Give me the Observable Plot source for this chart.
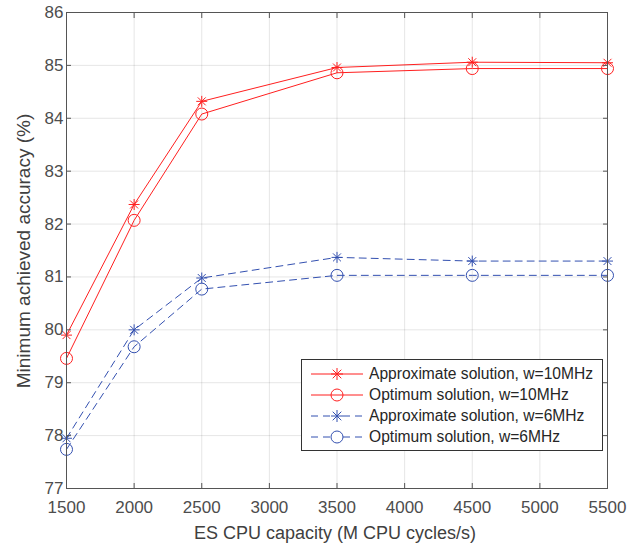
<!DOCTYPE html>
<html><head><meta charset="utf-8">
<script src="https://cdn.jsdelivr.net/npm/d3@7"></script>
<script src="https://cdn.jsdelivr.net/npm/@observablehq/plot@0.6"></script>
<style>
body{margin:0;background:#fff;font-family:"Liberation Sans",Arial,sans-serif;}
#wrap{position:relative;width:639px;height:548px;}
#legend{position:absolute;left:301px;top:359px;width:302px;height:92px;border:1px solid #333;background:#fff;box-sizing:border-box;padding-top:3px;}
.row{display:flex;align-items:center;height:21px;}
.row svg{flex-shrink:0;margin-left:9px;}
.row span{font-size:15.6px;color:#262626;margin-left:6px;white-space:nowrap;}
</style></head><body><div id="wrap"></div>
<script>
const capacity = [1500, 2000, 2500, 3500, 4500, 5500];
const approx10 = [79.9, 82.37, 84.32, 84.96, 85.06, 85.05];
const optimum10 = [79.46, 82.07, 84.08, 84.86, 84.94, 84.94];
const approx6 = [77.95, 80.0, 80.98, 81.37, 81.3, 81.3];
const optimum6 = [77.74, 79.68, 80.77, 81.03, 81.03, 81.03];
const xTicks = [1500, 2000, 2500, 3000, 3500, 4000, 4500, 5000, 5500];
const yTicks = [77, 78, 79, 80, 81, 82, 83, 84, 85, 86];
const seriesNames = ["Approximate solution, w=10MHz", "Optimum solution, w=10MHz", "Approximate solution, w=6MHz", "Optimum solution, w=6MHz"];
const xLabel = "ES CPU capacity (M CPU cycles/s)";
const yLabel = "Minimum achieved accuracy (%)";

const RED = "#ff1f1f", BLUE = "#3350b0";
const star8 = {draw(ctx, size){
  const r = Math.sqrt(size/Math.PI), d = r*0.72;
  ctx.moveTo(0,-r); ctx.lineTo(0,r);
  ctx.moveTo(-r,0); ctx.lineTo(r,0);
  ctx.moveTo(-d,-d); ctx.lineTo(d,d);
  ctx.moveTo(-d,d); ctx.lineTo(d,-d);
}};
const series = [
  {name: seriesNames[0], vals: approx10, color: RED, dash: null, sym: star8, r: 5.5},
  {name: seriesNames[1], vals: optimum10, color: RED, dash: null, sym: "circle", r: 6},
  {name: seriesNames[2], vals: approx6, color: BLUE, dash: "7,5", sym: star8, r: 5.5},
  {name: seriesNames[3], vals: optimum6, color: BLUE, dash: "7,5", sym: "circle", r: 6}
];
const marks = [
  Plot.gridX(xTicks, {stroke: "#000", strokeOpacity: 0.1}),
  Plot.gridY(yTicks, {stroke: "#000", strokeOpacity: 0.1}),
];
for (const s of series) {
  const data = capacity.map((c, i) => ({x: c, y: s.vals[i]}));
  marks.push(Plot.line(data, {x: "x", y: "y", stroke: s.color, strokeWidth: 1, strokeDasharray: s.dash}));
  marks.push(Plot.dot(data, {x: "x", y: "y", stroke: s.color, fill: "none", symbol: s.sym, r: s.r, strokeWidth: 1}));
}
marks.push(
  Plot.frame({stroke: "#555", strokeWidth: 1}),
  Plot.axisX(xTicks, {anchor: "bottom", tickSize: 0, tickPadding: 12, tickFormat: d => String(d), fill: "#4d4d4d", label: null, fontSize: 17}),
  Plot.axisX(xTicks, {anchor: "bottom", tickSize: -5, text: null, stroke: "#555", label: null}),
  Plot.axisX(xTicks, {anchor: "top", tickSize: -5, text: null, stroke: "#555", label: null}),
  Plot.axisY(yTicks, {anchor: "left", tickSize: 0, tickPadding: 3, tickFormat: d => String(d), fill: "#4d4d4d", label: null, fontSize: 17}),
  Plot.axisY(yTicks, {anchor: "left", tickSize: -5, text: null, stroke: "#555", label: null}),
  Plot.axisY(yTicks, {anchor: "right", tickSize: -5, text: null, stroke: "#555", label: null})
);
const chart = Plot.plot({
  width: 639, height: 548,
  marginLeft: 66, marginRight: 32, marginTop: 12, marginBottom: 60,
  style: {fontFamily: "'Liberation Sans', Arial, sans-serif", fontSize: "16px", background: "white", color: "#4d4d4d"},
  x: {domain: [1500, 5500]},
  y: {domain: [77, 86]},
  marks
});
const svg = d3.select(chart);
svg.append("text").attr("x", 335).attr("y", 539).attr("text-anchor", "middle")
  .attr("fill", "#404040").attr("font-size", 18).text(xLabel);
svg.append("text").attr("transform", "translate(30,251) rotate(-90)").attr("text-anchor", "middle")
  .attr("fill", "#404040").attr("font-size", 19).text(yLabel);
const wrap = document.getElementById("wrap");
wrap.appendChild(chart);
const legend = document.createElement("div");
legend.id = "legend";
for (const s of series) {
  const row = document.createElement("div");
  row.className = "row";
  const isStar = s.sym !== "circle";
  const marker = isStar
    ? `<path d="M26,5V17M20,11H32M21.7,6.7L30.3,15.3M21.7,15.3L30.3,6.7" stroke="${s.color}" fill="none"/>`
    : `<circle cx="26" cy="11" r="6" stroke="${s.color}" fill="none"/>`;
  const line = s.dash
    ? `<path d="M0,11H20M32,11H52" stroke="${s.color}" stroke-dasharray="7,5"/>`
    : `<path d="M0,11H52" stroke="${s.color}"/>`;
  row.innerHTML = `<svg width="52" height="22">${line}${marker}</svg><span>${s.name}</span>`;
  legend.appendChild(row);
}
wrap.appendChild(legend);
</script></body></html>
